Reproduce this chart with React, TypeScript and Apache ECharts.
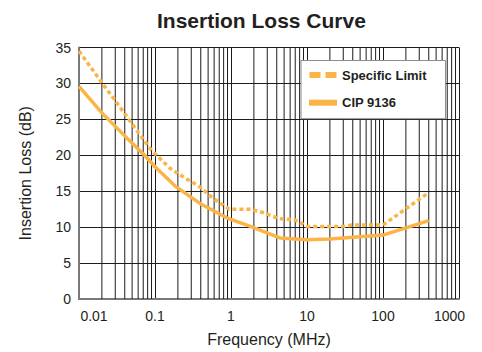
import React, { useEffect, useRef } from "react";
import * as echarts from "echarts";

// ---- Data ----
const limitFreq = [0.01, 0.02, 0.03, 0.06, 0.09, 0.157, 0.235, 0.39, 0.58, 0.95, 1.8, 2.7, 4.2, 7, 10, 30, 40, 100, 400];
const limitLoss = [34.5, 30.1, 27.6, 23.2, 20.7, 18.2, 17.0, 15.6, 14.0, 12.5, 12.5, 12.0, 11.2, 11.0, 10.1, 10.1, 10.3, 10.3, 14.8];

const cipFreq = [0.01, 0.02, 0.04, 0.073, 0.1, 0.19, 0.39, 0.88, 1.8, 4.4, 10, 20, 100, 400];
const cipLoss = [29.6, 25.9, 22.7, 20.0, 18.4, 15.6, 13.3, 11.3, 10.1, 8.5, 8.25, 8.35, 8.9, 10.9];

const decades = [0.01, 0.1, 1, 10, 100];
const minorMultipliers = [2, 3, 4, 5, 6, 7, 8, 9];

const seriesNames = ["Specific Limit", "CIP 9136"];
const titleText = "Insertion Loss Curve";
const xName = "Frequency (MHz)";
const yName = "Insertion Loss (dB)";

const FONT = "'Liberation Sans', Arial, Helvetica, sans-serif";
const TEXT = "#231f20";
const ORANGE = "#fbb445";
const GRID = "#1c1c1c";

export default function App() {
  const ref = useRef<HTMLDivElement>(null);

  useEffect(() => {
    if (!ref.current) return;
    const chart = echarts.init(ref.current, undefined, { renderer: "svg" });

    const minorLines: number[][] = [];
    decades.forEach((d) =>
      minorMultipliers.forEach((m) => minorLines.push([Number((d * m).toPrecision(6)), 0]))
    );

    const fmt = (v: number) => {
      const s = String(Number(v.toPrecision(6)));
      if (Math.abs(v - 0.01) < 1e-9) return "{l|" + s + "}";
      if (Math.abs(v - 1000) < 1e-6) return "{r|" + s + "}";
      return s;
    };

    chart.setOption({
      animation: false,
      backgroundColor: "#ffffff",
      textStyle: { fontFamily: FONT },
      title: {
        text: titleText,
        left: 157,
        top: 10,
        padding: 0,
        textStyle: { fontFamily: FONT, fontSize: 21, fontWeight: "bold", color: TEXT },
      },
      legend: {
        orient: "vertical",
        left: 301,
        top: 60.5,
        padding: [6.5, 19, 8, 8],
        itemGap: 11.7,
        itemWidth: 28,
        itemHeight: 6,
        backgroundColor: "#ffffff",
        borderColor: "#8c8c8c",
        borderWidth: 1,
        textStyle: { fontFamily: FONT, fontSize: 13, fontWeight: "bold", color: TEXT, lineHeight: 16 },
        data: [
          { name: seriesNames[0], icon: "path://M0,0H11V6H0Z M16,0H27V6H16Z" },
          { name: seriesNames[1], icon: "rect" },
        ],
      },
      grid: { left: 79, right: 23, top: 47.5, bottom: 50, containLabel: false },
      xAxis: {
        type: "log",
        logBase: 10,
        min: 0.01,
        max: 1000,
        name: xName,
        nameLocation: "middle",
        nameGap: 32,
        nameTextStyle: { fontFamily: FONT, fontSize: 16, color: TEXT },
        axisLine: { show: true, lineStyle: { color: "#7a7a7a", width: 2 } },
        axisTick: { show: false },
        axisLabel: {
          margin: 10,
          fontFamily: FONT,
          fontSize: 14,
          color: TEXT,
          formatter: fmt,
          rich: {
            l: { fontFamily: FONT, fontSize: 14, color: TEXT, padding: [0, 0, 0, 30] },
            r: { fontFamily: FONT, fontSize: 14, color: TEXT, padding: [0, 19, 0, 0] },
          },
        },
        splitLine: { show: true, lineStyle: { color: GRID, width: 1 } },
      },
      yAxis: {
        type: "value",
        min: 0,
        max: 35,
        interval: 5,
        name: yName,
        nameLocation: "middle",
        nameGap: 46,
        nameTextStyle: { fontFamily: FONT, fontSize: 16, color: TEXT },
        axisLine: { show: true, lineStyle: { color: "#7a7a7a", width: 2 } },
        axisTick: { show: false },
        axisLabel: { margin: 8, fontFamily: FONT, fontSize: 14, color: TEXT },
        splitLine: { show: true, lineStyle: { color: GRID, width: 1 } },
      },
      series: [
        {
          type: "custom",
          name: "minorGrid",
          silent: true,
          z: 1,
          encode: { x: 0, y: 1 },
          data: minorLines,
          renderItem: (params: any, api: any) => {
            const f = api.value(0);
            const p1 = api.coord([f, 0]);
            const p2 = api.coord([f, 35]);
            return {
              type: "line",
              shape: { x1: p1[0], y1: p1[1], x2: p2[0], y2: p2[1] },
              style: { stroke: GRID, lineWidth: 1 },
            };
          },
        },
        {
          type: "line",
          name: seriesNames[0],
          z: 3,
          symbol: "none",
          color: ORANGE,
          lineStyle: { color: ORANGE, width: 3.5, type: [4, 3], cap: "butt" },
          data: limitFreq.map((f, i) => [f, limitLoss[i]]),
        },
        {
          type: "line",
          name: seriesNames[1],
          z: 3,
          symbol: "none",
          color: ORANGE,
          lineStyle: { color: ORANGE, width: 3.5 },
          data: cipFreq.map((f, i) => [f, cipLoss[i]]),
        },
      ],
    });

    return () => chart.dispose();
  }, []);

  return (
    <div
      ref={ref}
      style={{ position: "fixed", left: 0, top: 0, width: 482, height: 352 }}
    />
  );
}
